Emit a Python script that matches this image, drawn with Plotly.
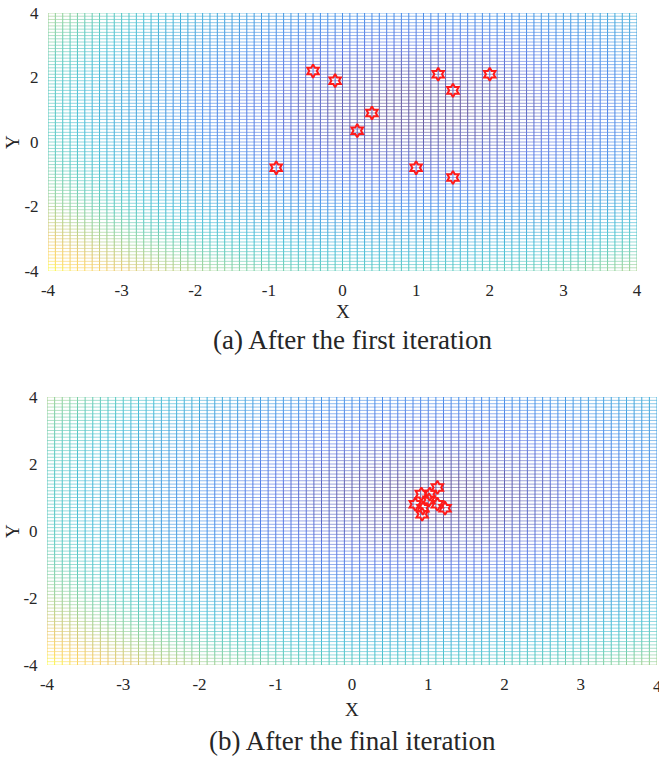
import numpy as np
import plotly.graph_objects as go
from plotly.colors import sample_colorscale, unlabel_rgb

# ---------------- data ----------------
grid_x = np.round(np.arange(-4.0, 4.0001, 0.1), 2)   # mesh x-grid
grid_y = np.round(np.arange(-4.0, 4.0001, 0.1), 2)   # mesh y-grid
optimum = (1.0, 1.0)                                  # centre of objective surface

first_x = [-0.4, -0.1, 1.3, 2.0, 1.5, 0.4, 0.2, -0.9, 1.0, 1.5]
first_y = [2.2, 1.9, 2.1, 2.1, 1.6, 0.9, 0.35, -0.8, -0.8, -1.1]

final_x = [1.12, 0.91, 1.02, 1.01, 0.83, 1.12, 1.22, 0.93, 0.92]
final_y = [1.30, 1.10, 1.10, 0.93, 0.80, 0.80, 0.68, 0.68, 0.50]

x_ticks = [-4, -3, -2, -1, 0, 1, 2, 3, 4]
y_ticks = [-4, -2, 0, 2, 4]
captions = ["(a) After the first iteration", "(b) After the final iteration"]

# ---------------- style ----------------
parula = [
    [0.00, "rgb(53,42,135)"],
    [0.08, "rgb(40,80,220)"],
    [0.18, "rgb(15,110,225)"],
    [0.30, "rgb(10,140,210)"],
    [0.42, "rgb(15,170,200)"],
    [0.52, "rgb(40,185,170)"],
    [0.62, "rgb(100,195,130)"],
    [0.72, "rgb(165,190,90)"],
    [0.82, "rgb(225,185,65)"],
    [0.91, "rgb(250,200,50)"],
    [1.00, "rgb(249,251,14)"],
]
NB = 48
base_colors = sample_colorscale(parula, [i / (NB - 1) for i in range(NB)])


def lighten(c, f):
    r, g, b = unlabel_rgb(c)
    return "rgb(%d,%d,%d)" % tuple(int(round(v + (255 - v) * f)) for v in (r, g, b))


h_colors = [lighten(c, 0.40) for c in base_colors]
v_colors = [lighten(c, 0.15) for c in base_colors]
FONT = "Liberation Serif"
TXT = "#262626"

X, Y = np.meshgrid(grid_x, grid_y)
Z = (X - optimum[0]) ** 2 + (Y - optimum[1]) ** 2
Zn = (Z - Z.min()) / (Z.max() - Z.min())
B = np.clip(np.round(Zn * (NB - 1)).astype(int), 0, NB - 1)


def mesh_traces(xa, ya):
    traces = []
    ny, nx = Z.shape
    hx = [[] for _ in range(NB)]
    hy = [[] for _ in range(NB)]
    for j in range(ny):
        for i in range(nx - 1):
            b = B[j, i]
            hx[b] += [grid_x[i], grid_x[i + 1], None]
            hy[b] += [grid_y[j], grid_y[j], None]
    vx = [[] for _ in range(NB)]
    vy = [[] for _ in range(NB)]
    for i in range(nx):
        for j in range(ny - 1):
            b = B[j, i]
            vx[b] += [grid_x[i], grid_x[i], None]
            vy[b] += [grid_y[j], grid_y[j + 1], None]
    for b in range(NB):
        if hx[b]:
            traces.append(go.Scatter(x=hx[b], y=hy[b], mode="lines", xaxis=xa, yaxis=ya,
                                     line=dict(color=h_colors[b], width=0.8),
                                     hoverinfo="skip", showlegend=False))
    for b in range(NB):
        if vx[b]:
            traces.append(go.Scatter(x=vx[b], y=vy[b], mode="lines", xaxis=xa, yaxis=ya,
                                     line=dict(color=v_colors[b], width=0.9),
                                     hoverinfo="skip", showlegend=False))
    return traces


fig = go.Figure()
for t in mesh_traces("x", "y"):
    fig.add_trace(t)
for t in mesh_traces("x2", "y2"):
    fig.add_trace(t)

marker = dict(symbol="hexagram-open", size=10, color="#ff1a1a", line=dict(color="#ff1a1a", width=2))
fig.add_trace(go.Scatter(x=first_x, y=first_y, mode="markers", marker=marker,
                         xaxis="x", yaxis="y", showlegend=False))
fig.add_trace(go.Scatter(x=final_x, y=final_y, mode="markers", marker=marker,
                         xaxis="x2", yaxis="y2", showlegend=False))

W, H = 659, 761
xt_text = [str(v) for v in x_ticks]
yt_text = [str(v) for v in y_ticks]
TICK_SIZE = 17
ax_common = dict(showgrid=False, zeroline=False, showline=False, ticks="outside",
                 tickcolor="rgba(0,0,0,0)", automargin=False,
                 tickfont=dict(family=FONT, size=TICK_SIZE, color=TXT))
fig.update_layout(
    width=W, height=H, margin=dict(l=0, r=0, t=0, b=0, autoexpand=False),
    paper_bgcolor="white", plot_bgcolor="white", showlegend=False,
    xaxis=dict(domain=[48 / W, 637 / W], range=[-4, 4], tickvals=x_ticks, ticktext=xt_text,
               ticklen=4, anchor="y", **ax_common),
    yaxis=dict(domain=[1 - 271 / H, 1 - 13 / H], range=[-4, 4], tickvals=y_ticks, ticktext=yt_text,
               ticklen=5, anchor="x", **ax_common),
    xaxis2=dict(domain=[47 / W, 657 / W], range=[-4, 4], tickvals=x_ticks[:-1], ticktext=xt_text[:-1],
                ticklen=4, anchor="y2", **ax_common),
    yaxis2=dict(domain=[1 - 665 / H, 1 - 397 / H], range=[-4, 4], tickvals=y_ticks, ticktext=yt_text,
                ticklen=5, anchor="x2", **ax_common),
)

ann = []
for xc, yx, yl, yc, cap in [(343, 311, 142, 340, captions[0]), (352, 709, 531, 741, captions[1])]:
    ann.append(dict(text="X", x=xc / W, y=1 - yx / H, xref="paper", yref="paper",
                    xanchor="center", yanchor="middle",
                    showarrow=False, font=dict(family=FONT, size=19, color=TXT)))
    ann.append(dict(text="Y", x=12 / W, y=1 - yl / H, xref="paper", yref="paper", textangle=-90,
                    xanchor="center", yanchor="middle",
                    showarrow=False, font=dict(family=FONT, size=19, color=TXT)))
    ann.append(dict(text=cap, x=352 / W, y=1 - yc / H, xref="paper", yref="paper",
                    xanchor="center", yanchor="middle",
                    showarrow=False, font=dict(family=FONT, size=27, color=TXT)))
# last x tick label of the lower panel sits on the page edge (clipped like the original)
ann.append(dict(text=xt_text[-1], x=x_ticks[-1], y=1 - 686 / H, xref="x2", yref="paper",
                xanchor="center", yanchor="middle", showarrow=False,
                font=dict(family=FONT, size=TICK_SIZE, color=TXT)))
fig.update_layout(annotations=ann)

fig.write_html("out.html")
